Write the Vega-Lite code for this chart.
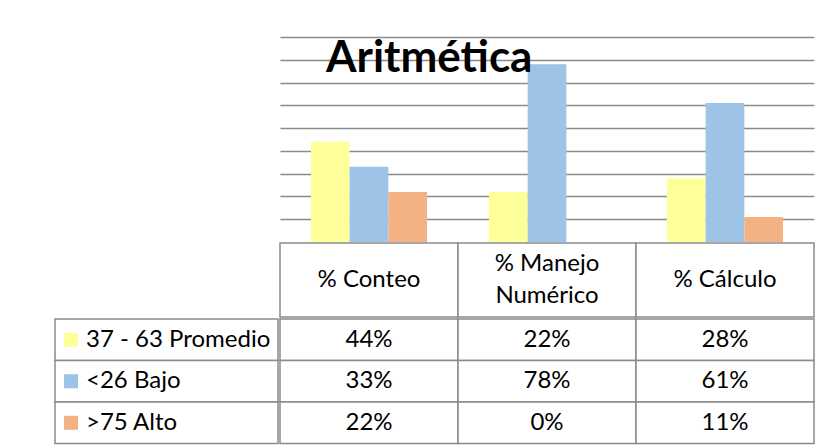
{
  "$schema": "https://vega.github.io/schema/vega-lite/v6.json",
  "background": "white",
  "padding": {"left": 54, "top": 37, "right": 15, "bottom": 4},
  "config": {"view": {"stroke": null}, "font": "Lato", "concat": {"spacing": 0}},
  "datasets": {
    "scores": [
      {"cat": "% Conteo", "series": "37 - 63 Promedio", "value": 0.44},
      {"cat": "% Conteo", "series": "<26 Bajo", "value": 0.33},
      {"cat": "% Conteo", "series": ">75 Alto", "value": 0.22},
      {"cat": "% Manejo Numérico", "series": "37 - 63 Promedio", "value": 0.22},
      {"cat": "% Manejo Numérico", "series": "<26 Bajo", "value": 0.78},
      {"cat": "% Manejo Numérico", "series": ">75 Alto", "value": 0.0},
      {"cat": "% Cálculo", "series": "37 - 63 Promedio", "value": 0.28},
      {"cat": "% Cálculo", "series": "<26 Bajo", "value": 0.61},
      {"cat": "% Cálculo", "series": ">75 Alto", "value": 0.11}
    ],
    "headers": [
      {"cat": "% Conteo", "header": "% Conteo"},
      {"cat": "% Manejo Numérico", "header": "% Manejo\nNumérico"},
      {"cat": "% Cálculo", "header": "% Cálculo"}
    ],
    "series": [
      {"series": "37 - 63 Promedio"},
      {"series": "<26 Bajo"},
      {"series": ">75 Alto"}
    ],
    "titles": [{"title": "Aritmética"}]
  },
  "columns": 2,
  "spacing": 0,
  "concat": [
    {"width": 223, "height": 205, "data": {"values": []}, "mark": "point"},
    {
      "width": 534,
      "height": 205,
      "layer": [
        {
          "data": {"name": "scores"},
          "mark": {"type": "bar"},
          "encoding": {
            "x": {"field": "cat", "type": "nominal", "sort": ["% Conteo", "% Manejo Numérico", "% Cálculo"], "scale": {"paddingInner": 0, "paddingOuter": 0}, "axis": null},
            "xOffset": {"field": "series", "type": "nominal", "sort": ["37 - 63 Promedio", "<26 Bajo", ">75 Alto"], "scale": {"paddingInner": 0, "paddingOuter": 0.8}},
            "y": {"field": "value", "type": "quantitative", "scale": {"domain": [0, 0.9], "nice": false},
              "axis": {"values": [0.1, 0.2, 0.3, 0.4, 0.5, 0.6, 0.7, 0.8, 0.9], "tickCount": 20, "grid": true, "gridColor": "#8a8a8a", "gridWidth": 1.5, "labels": false, "ticks": false, "domain": false, "title": null}},
            "color": {"field": "series", "type": "nominal", "scale": {"domain": ["37 - 63 Promedio", "<26 Bajo", ">75 Alto"], "range": ["#FFFF99", "#9DC3E6", "#F4B183"]}, "legend": null}
          }
        },
        {
          "data": {"name": "titles"},
          "mark": {"type": "text", "align": "left", "baseline": "alphabetic", "fontSize": 44, "fontWeight": "bold", "dx": 46, "color": "black"},
          "encoding": {
            "x": {"datum": "% Conteo", "bandPosition": 0},
            "y": {"datum": 0.745},
            "text": {"field": "title"}
          }
        }
      ]
    },
    {"width": 223, "height": 74, "data": {"values": []}, "mark": "point"},
    {
      "width": 534,
      "height": 74,
      "data": {"name": "headers"},
      "layer": [
        {
          "mark": {"type": "rect", "fill": "white", "stroke": "#8a8a8a", "strokeWidth": 1.5},
          "encoding": {
            "x": {"field": "cat", "type": "nominal", "sort": ["% Conteo", "% Manejo Numérico", "% Cálculo"], "scale": {"paddingInner": 0, "paddingOuter": 0}, "axis": null}
          }
        },
        {
          "mark": {"type": "text", "fontSize": 24, "lineBreak": "\n", "lineHeight": 32, "color": "black", "dy": {"expr": "indexof(datum.header, '\\n') >= 0 ? -16 : 0"}},
          "encoding": {
            "x": {"field": "cat", "type": "nominal", "sort": ["% Conteo", "% Manejo Numérico", "% Cálculo"]},
            "text": {"field": "header"}
          }
        }
      ]
    },
    {
      "width": 223,
      "height": 124.5,
      "data": {"name": "series"},
      "layer": [
        {
          "mark": {"type": "rect", "fill": "white", "stroke": "#8a8a8a", "strokeWidth": 1.5},
          "encoding": {
            "y": {"field": "series", "type": "nominal", "sort": ["37 - 63 Promedio", "<26 Bajo", ">75 Alto"], "scale": {"paddingInner": 0, "paddingOuter": 0}, "axis": null}
          }
        },
        {
          "mark": {"type": "square", "size": 196, "filled": true, "opacity": 1, "xOffset": 16},
          "encoding": {
            "x": {"datum": "label", "type": "nominal", "bandPosition": 0, "scale": {"type": "band", "paddingInner": 0, "paddingOuter": 0}, "axis": null},
            "y": {"field": "series", "type": "nominal", "sort": ["37 - 63 Promedio", "<26 Bajo", ">75 Alto"]},
            "color": {"field": "series", "type": "nominal", "legend": null}
          }
        },
        {
          "mark": {"type": "text", "fontSize": 24, "align": "left", "dx": 31, "color": "black"},
          "encoding": {
            "x": {"datum": "label", "type": "nominal", "bandPosition": 0},
            "y": {"field": "series", "type": "nominal", "sort": ["37 - 63 Promedio", "<26 Bajo", ">75 Alto"]},
            "text": {"field": "series"}
          }
        }
      ]
    },
    {
      "width": 534,
      "height": 124.5,
      "data": {"name": "scores"},
      "layer": [
        {
          "mark": {"type": "rect", "fill": "white", "stroke": "#8a8a8a", "strokeWidth": 1.5},
          "encoding": {
            "x": {"field": "cat", "type": "nominal", "sort": ["% Conteo", "% Manejo Numérico", "% Cálculo"], "scale": {"paddingInner": 0, "paddingOuter": 0}, "axis": null},
            "y": {"field": "series", "type": "nominal", "sort": ["37 - 63 Promedio", "<26 Bajo", ">75 Alto"], "scale": {"paddingInner": 0, "paddingOuter": 0}, "axis": null}
          }
        },
        {
          "mark": {"type": "text", "fontSize": 24, "color": "black"},
          "encoding": {
            "x": {"field": "cat", "type": "nominal", "sort": ["% Conteo", "% Manejo Numérico", "% Cálculo"]},
            "y": {"field": "series", "type": "nominal", "sort": ["37 - 63 Promedio", "<26 Bajo", ">75 Alto"]},
            "text": {"field": "value", "type": "quantitative", "format": ".0%"}
          }
        }
      ]
    }
  ]
}
